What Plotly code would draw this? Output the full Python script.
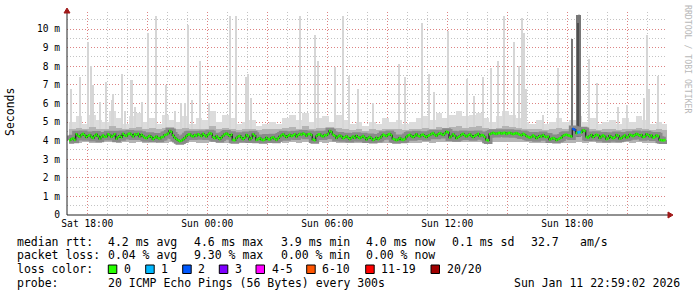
import plotly.graph_objects as go
import pandas as pd

# ---------------- data ----------------
range_start = "2026-01-10 16:59:02"
range_end = "2026-01-11 22:59:02"

median_start = "2026-01-10 17:05"   # 5-minute steps (300 s)
median_ms = [
    4.02, 4.08, 4.12, 4.04, 4.34, 4.26, 4.20, 4.31, 4.36, 4.28, 4.18, 4.26, 4.30, 4.20, 4.14, 4.26, 4.33, 4.23, 4.10, 4.20,
    4.28, 4.20, 4.22, 4.34, 4.30, 4.20, 4.26, 4.34, 4.10, 4.18, 4.26, 4.18, 4.36, 4.28, 4.25, 4.35, 4.38, 4.32, 4.22, 4.34,
    4.30, 4.36, 4.22, 4.32, 4.24, 4.16, 4.12, 4.20, 4.26, 4.18, 4.08, 4.16, 4.22, 4.14, 4.10, 4.18, 4.20, 4.30, 4.32, 4.38,
    4.52, 4.46, 4.28, 4.16, 4.08, 4.02, 3.97, 4.00, 4.06, 4.14, 4.24, 4.32, 4.34, 4.26, 4.22, 4.30, 4.26, 4.34, 4.30, 4.24,
    4.36, 4.28, 4.22, 4.32, 4.40, 4.36, 4.18, 4.12, 4.24, 4.16, 4.08, 4.16, 4.26, 4.34, 4.38, 4.32, 4.24, 4.32, 4.04, 4.02,
    4.14, 4.22, 4.26, 4.16, 4.08, 4.16, 4.30, 4.24, 4.06, 4.14, 4.34, 4.26, 4.04, 4.08, 4.14, 4.06, 4.02, 4.06, 4.16, 4.08,
    4.06, 4.14, 4.18, 4.10, 4.04, 4.12, 4.22, 4.28, 4.34, 4.26, 4.18, 4.26, 4.32, 4.24, 4.28, 4.34, 4.22, 4.30, 4.36, 4.32,
    4.38, 4.34, 4.26, 4.34, 4.36, 4.30, 4.06, 4.02, 4.24, 4.32, 4.34, 4.26, 4.22, 4.30, 4.28, 4.36, 4.52, 4.46, 4.32, 4.26,
    4.14, 4.22, 4.28, 4.22, 4.12, 4.18, 4.24, 4.16, 4.08, 4.16, 4.22, 4.14, 4.26, 4.18, 4.12, 4.18, 4.24, 4.16, 4.06, 4.14,
    4.20, 4.12, 4.03, 4.08, 4.16, 4.08, 4.14, 4.22, 4.32, 4.28, 4.24, 4.32, 4.36, 4.28, 4.10, 4.06, 4.02, 4.06, 4.14, 4.06,
    4.04, 4.08, 4.20, 4.28, 4.32, 4.24, 4.18, 4.26, 4.34, 4.26, 4.22, 4.30, 4.32, 4.24, 4.18, 4.26, 4.30, 4.36, 4.40, 4.32,
    4.26, 4.34, 4.40, 4.36, 4.30, 4.38, 4.48, 4.44, 4.16, 4.24, 4.34, 4.26, 4.12, 4.18, 4.24, 4.32, 4.36, 4.28, 4.22, 4.28,
    4.34, 4.26, 4.18, 4.26, 4.30, 4.36, 4.24, 4.30, 4.28, 4.20, 4.04, 4.01, 4.34, 4.38, 4.42, 4.38, 4.36, 4.40, 4.42, 4.38,
    4.40, 4.42, 4.36, 4.40, 4.42, 4.38, 4.34, 4.38, 4.40, 4.36, 4.32, 4.28, 4.36, 4.32, 4.24, 4.20, 4.16, 4.20, 4.28, 4.22,
    4.12, 4.18, 4.26, 4.22, 4.30, 4.22, 4.18, 4.22, 4.06, 4.10, 4.14, 4.10, 4.03, 4.07, 4.12, 4.16, 4.26, 4.30, 4.32, 4.28,
    4.26, 4.22, 4.62, 4.58, 4.40, 4.44, 4.46, 4.44, 4.56, 4.52, 4.20, 4.16, 4.24, 4.30, 4.18, 4.26, 4.32, 4.28, 4.14, 4.22,
    4.28, 4.22, 4.08, 4.12, 4.26, 4.18, 4.12, 4.18, 4.30, 4.26, 4.10, 4.14, 4.22, 4.28, 4.16, 4.20, 4.32, 4.28, 4.24, 4.30,
    4.36, 4.32, 4.26, 4.30, 4.18, 4.22, 4.34, 4.30, 4.22, 4.28, 4.16, 4.20, 4.28, 4.24, 4.04, 4.02, 4.01, 4.03,
]
loss_index = [302, 303, 305, 306]
loss_pings = [2, 2, 1, 1]

smoke_start = "2026-01-10 17:05"    # 20-minute steps
smoke_lo_ms = [
    3.90, 3.88, 3.91, 3.89, 3.87, 3.90, 3.92, 3.88, 3.90, 3.89,
    3.91, 3.88, 3.90, 3.87, 3.89, 3.90, 3.86, 3.88, 3.90, 3.89,
    3.88, 3.90, 3.87, 3.89, 3.86, 3.85, 3.87, 3.88, 3.86, 3.87,
    3.89, 3.90, 3.88, 3.91, 3.89, 3.90, 3.92, 3.90, 3.88, 3.90,
    3.89, 3.87, 3.88, 3.86, 3.87, 3.88, 3.86, 3.87, 3.89, 3.88,
    3.87, 3.86, 3.88, 3.90, 3.89, 3.91, 3.90, 3.92, 3.90, 3.91,
    3.90, 3.92, 3.93, 3.91, 3.90, 3.92, 3.93, 3.91, 3.90, 3.88,
    3.89, 3.87, 3.88, 3.90, 3.88, 3.89, 3.90, 3.88, 3.90, 3.87,
    3.88, 3.89, 3.87, 3.90, 3.88, 3.91, 3.89, 3.87, 3.88, 3.86,
]
smoke_mid_hi_ms = [
    4.60, 4.70, 4.60, 4.75, 4.65, 4.60, 4.80, 4.70, 4.60, 4.70,
    4.75, 4.60, 4.70, 4.60, 4.70, 4.65, 4.60, 4.70, 4.60, 4.65,
    4.60, 4.80, 4.60, 4.70, 4.65, 4.55, 4.60, 4.60, 4.55, 4.60,
    4.60, 4.60, 4.70, 4.75, 4.65, 4.80, 4.60, 4.70, 4.70, 4.60,
    4.70, 4.60, 4.55, 4.60, 4.50, 4.60, 4.55, 4.65, 4.60, 4.60,
    4.55, 4.60, 4.65, 4.70, 4.65, 4.75, 4.70, 4.75, 4.80, 4.70,
    4.75, 4.80, 4.70, 4.65, 4.70, 4.80, 4.75, 4.70, 4.60, 4.60,
    4.65, 4.55, 4.60, 4.70, 4.60, 4.65, 4.70, 4.60, 4.65, 4.55,
    4.60, 4.65, 4.55, 4.65, 4.60, 4.70, 4.65, 4.55, 4.60, 4.55,
]
smoke_light_hi_ms = [
    5.0, 5.3, 4.9, 5.4, 5.1, 5.0, 5.6, 5.2, 4.9, 5.3,
    5.5, 5.0, 5.2, 4.9, 5.4, 5.1, 5.0, 5.3, 4.9, 5.2,
    5.1, 5.6, 5.0, 5.4, 5.2, 4.9, 5.0, 5.1, 4.8, 4.9,
    5.0, 4.9, 5.2, 5.4, 5.1, 5.5, 5.0, 5.2, 5.3, 5.0,
    5.4, 5.1, 4.9, 5.0, 4.8, 5.0, 4.9, 5.2, 5.0, 5.1,
    4.9, 5.0, 5.2, 5.3, 5.1, 5.5, 5.2, 5.4, 5.6, 5.3,
    5.4, 5.5, 5.2, 5.0, 5.3, 5.6, 5.4, 5.2, 5.0, 4.9,
    5.1, 4.9, 5.0, 5.2, 5.0, 5.1, 5.3, 5.0, 5.2, 4.9,
    5.0, 5.1, 4.9, 5.2, 5.0, 5.3, 5.1, 4.9, 5.0, 4.9,
]

spike_times = [
    "2026-01-10 17:08", "2026-01-10 17:35", "2026-01-10 17:59", "2026-01-10 18:08",
    "2026-01-10 18:14", "2026-01-10 18:35", "2026-01-10 18:53", "2026-01-10 19:11",
    "2026-01-10 19:14", "2026-01-10 19:41", "2026-01-10 19:50", "2026-01-10 20:11",
    "2026-01-10 20:20", "2026-01-10 20:41", "2026-01-10 20:59", "2026-01-10 21:23",
    "2026-01-10 21:53", "2026-01-10 22:20", "2026-01-10 22:38", "2026-01-10 22:50",
    "2026-01-10 22:59", "2026-01-10 23:11", "2026-01-10 23:35", "2026-01-11 00:02",
    "2026-01-11 01:05", "2026-01-11 01:23", "2026-01-11 01:53", "2026-01-11 01:59",
    "2026-01-11 02:08", "2026-01-11 04:35", "2026-01-11 05:20", "2026-01-11 05:29",
    "2026-01-11 06:20", "2026-01-11 06:44", "2026-01-11 07:02", "2026-01-11 07:29",
    "2026-01-11 08:14", "2026-01-11 09:32", "2026-01-11 09:50", "2026-01-11 10:41",
    "2026-01-11 11:02", "2026-01-11 11:17", "2026-01-11 11:59", "2026-01-11 12:56",
    "2026-01-11 13:17", "2026-01-11 13:44", "2026-01-11 14:08", "2026-01-11 14:29",
    "2026-01-11 14:47", "2026-01-11 15:17", "2026-01-11 15:32", "2026-01-11 15:41",
    "2026-01-11 15:47", "2026-01-11 15:53", "2026-01-11 16:44", "2026-01-11 17:29",
    "2026-01-11 18:32", "2026-01-11 19:02", "2026-01-11 19:26", "2026-01-11 20:29",
    "2026-01-11 20:56", "2026-01-11 21:47", "2026-01-11 21:56", "2026-01-11 22:02",
    "2026-01-11 22:29",
]
spike_ms = [
    6.8, 7.4, 9.3, 8.0, 7.0, 6.1, 7.15, 6.2,
    6.5, 7.6, 5.6, 7.25, 5.8, 6.1, 9.8, 10.7,
    7.0, 5.6, 6.0, 6.0, 10.2, 6.2, 8.3, 6.0,
    10.7, 10.7, 7.4, 7.6, 6.3, 10.7, 9.7, 8.3,
    7.95, 10.7, 7.5, 6.8, 6.0, 8.1, 7.4, 10.3,
    7.6, 6.6, 9.9, 7.3, 6.4, 7.4, 7.9, 8.3,
    10.7, 9.3, 8.0, 10.6, 9.8, 6.8, 5.4, 7.9,
    10.8, 8.4, 7.1, 5.8, 5.9, 6.3, 9.7, 6.8,
    7.5,
]
# the burst of slow replies shortly after Sun 18:00 (outer / inner smoke)
heavy_times = ["2026-01-11 18:12", "2026-01-11 18:26"]
heavy_ms = [9.45, 10.75]
heavy_core_times = ["2026-01-11 18:29"]
heavy_core_ms = [10.3]

y_tick_vals = list(range(0, 11))
y_tick_text = ["0"] + [f"{v} m" for v in range(1, 11)]
x_tick_vals = ["2026-01-10 18:00", "2026-01-10 21:00", "2026-01-11 00:00", "2026-01-11 03:00",
               "2026-01-11 06:00", "2026-01-11 09:00", "2026-01-11 12:00", "2026-01-11 15:00",
               "2026-01-11 18:00", "2026-01-11 21:00"]
x_tick_text = ["Sat 18:00", "", "Sun 00:00", "", "Sun 06:00", "", "Sun 12:00", "", "Sun 18:00", ""]

loss_colors = {0: "#26ff00", 1: "#00b8ff", 2: "#0059ff", 3: "#7e00ff",
               5: "#ff00ff", 10: "#ff5500", 19: "#ff0000", 20: "#a00000"}
legend_items = [("0", "#26ff00"), ("1", "#00b8ff"), ("2", "#0059ff"), ("3", "#7e00ff"),
                ("4-5", "#ff00ff"), ("6-10", "#ff5500"), ("11-19", "#ff0000"), ("20/20", "#a00000")]

stats_rtt = ["median rtt:", "4.2 ms avg", "4.6 ms max", "3.9 ms min", "4.0 ms now", "0.1 ms sd", "32.7", "am/s"]
stats_loss = ["packet loss:", "0.04 % avg", "9.30 % max", "0.00 % min", "0.00 % now"]
probe_text = ["probe:", "20 ICMP Echo Pings (56 Bytes) every 300s", "Sun Jan 11 22:59:02 2026"]

# ---------------- layout helpers ----------------
W, H = 697, 297
PL, PR, PT, PB = 67, 667, 12, 215
MONO = "DejaVu Sans Mono"


def px(xp):
    return (xp - PL) / (PR - PL)


def py(yp):
    return (PB - yp) / (PB - PT)


med_t = pd.date_range(median_start, periods=len(median_ms), freq="5min")
smk_t = pd.date_range(smoke_start, periods=len(smoke_lo_ms), freq="20min")
STEP5 = pd.Timedelta(minutes=5)
STEP20 = 1200000

fig = go.Figure()

# light smoke band
fig.add_trace(go.Bar(x=smk_t, base=smoke_lo_ms,
                     y=[h - l for h, l in zip(smoke_light_hi_ms, smoke_lo_ms)],
                     width=STEP20, offset=0, marker=dict(color="#dcdcdc", line_width=0)))
# light spikes
fig.add_trace(go.Bar(x=pd.to_datetime(spike_times), base=[4.0] * len(spike_ms),
                     y=[s - 4.0 for s in spike_ms], width=360000, offset=0,
                     marker=dict(color="#d6d6d6", line_width=0)))
# mid smoke band
fig.add_trace(go.Bar(x=smk_t, base=smoke_lo_ms,
                     y=[h - l for h, l in zip(smoke_mid_hi_ms, smoke_lo_ms)],
                     width=STEP20, offset=0, marker=dict(color="#b4b4b4", line_width=0)))
# heavy event
fig.add_trace(go.Bar(x=pd.to_datetime(heavy_times), base=[4.2] * len(heavy_ms),
                     y=[s - 4.2 for s in heavy_ms], width=[300000, 960000], offset=0,
                     marker=dict(color="#777777", line_width=0)))
fig.add_trace(go.Bar(x=pd.to_datetime(heavy_core_times), base=[4.2] * len(heavy_core_ms),
                     y=[s - 4.2 for s in heavy_core_ms], width=420000, offset=0,
                     marker=dict(color="#4e4e4e", line_width=0)))
# dark core around the median
fig.add_trace(go.Scatter(x=med_t, y=median_ms, mode="lines", line_shape="hv",
                         line=dict(color="#8a8a8a", width=7)))
fig.add_trace(go.Scatter(x=med_t, y=median_ms, mode="lines", line_shape="hv",
                         line=dict(color="#2a2a2a", width=1.4)))

# median drawn as per-step horizontal segments coloured by packet loss
loss_of_step = {i: n for i, n in zip(loss_index, loss_pings)}
loss_key = lambda n: min(k for k in loss_colors if k >= n)
segments = {}
for i, (t, m) in enumerate(zip(med_t, median_ms)):
    key = loss_key(loss_of_step.get(i, 0))
    sx, sy = segments.setdefault(key, ([], []))
    sx.extend([t, t + STEP5, None])
    sy.extend([m, m, None])
for key, (sx, sy) in segments.items():
    fig.add_trace(go.Scatter(x=sx, y=sy, mode="lines", connectgaps=False,
                             line=dict(color=loss_colors[key], width=2.6)))

grid_dash = "1px,2px"
fig.update_layout(
    width=W, height=H,
    margin=dict(l=PL, r=W - PR, t=PT, b=H - PB),
    paper_bgcolor="white", plot_bgcolor="white",
    barmode="overlay", bargap=0, showlegend=False,
    font=dict(family=MONO, color="black"),
    xaxis=dict(type="date", range=[range_start, range_end],
               tickmode="array", tickvals=x_tick_vals, ticktext=x_tick_text,
               showgrid=True, gridcolor="rgba(230,110,110,0.75)", griddash=grid_dash, gridwidth=1,
               minor=dict(dtick=3600000, tick0="2026-01-10 17:00", showgrid=True,
                          gridcolor="#c4c4c4", griddash=grid_dash, gridwidth=1),
               showline=False, zeroline=False, ticks="",
               tickfont=dict(family=MONO, size=9.6, color="black"), ticklabelstandoff=1),
    yaxis=dict(range=[0, (PB - PT) / 18.6], tickmode="array",
               tickvals=y_tick_vals, ticktext=y_tick_text,
               showgrid=True, gridcolor="rgba(230,110,110,0.75)", griddash=grid_dash, gridwidth=1,
               minor=dict(dtick=0.5, tick0=0, showgrid=True,
                          gridcolor="#c4c4c4", griddash=grid_dash, gridwidth=1),
               showline=False, zeroline=False, ticks="",
               tickfont=dict(family=MONO, size=9.6, color="black"), ticklabelstandoff=6),
)

shapes = []
# axis lines
shapes.append(dict(type="line", xref="paper", yref="paper", x0=0, x1=px(669), y0=0, y1=0,
                   line=dict(color="#222", width=1)))
shapes.append(dict(type="line", xref="paper", yref="paper", x0=0, x1=0, y0=0, y1=py(10),
                   line=dict(color="#222", width=1)))
# arrows
shapes.append(dict(type="path", xref="paper", yref="paper",
                   path=f"M {px(668)},{py(212)} L {px(673)},{py(215)} L {px(668)},{py(218)} Z",
                   fillcolor="#a01818", line=dict(color="#a01818", width=1)))
shapes.append(dict(type="path", xref="paper", yref="paper",
                   path=f"M {px(64)},{py(13)} L {px(67)},{py(8)} L {px(70)},{py(13)} Z",
                   fillcolor="#a01818", line=dict(color="#a01818", width=1)))

annotations = []


def text(xp, yp, s, size=11.5, color="black"):
    annotations.append(dict(x=px(xp), y=py(yp), xref="paper", yref="paper", text=s,
                            showarrow=False, xanchor="left", yanchor="middle",
                            font=dict(family=MONO, size=size, color=color), borderpad=0))


rtt_x = [16, 106.5, 192.5, 279.5, 364.5, 451, 529.5, 578.5]
for xx, s in zip(rtt_x, stats_rtt):
    text(xx, 241.7, s)
loss_x = [16, 106.5, 192.5, 279.5, 364.5]
for xx, s in zip(loss_x, stats_loss):
    text(xx, 255.3, s)
text(16, 269.3, "loss color:")
box_x = [108.3, 145.7, 182.7, 219.3, 256, 306.7, 365.7, 431]
lbl_x = [122.5, 160, 197, 233.5, 270.5, 321, 380, 445.5]
for bx, lx, (lab, col) in zip(box_x, lbl_x, legend_items):
    shapes.append(dict(type="rect", xref="paper", yref="paper",
                       x0=px(bx), x1=px(bx + 8.5), y0=py(273.5), y1=py(265),
                       fillcolor=col, line=dict(color="black", width=1)))
    text(lx, 269.3, lab)
text(16, 283.3, probe_text[0])
text(106.5, 283.3, probe_text[1])
text(512.5, 283.3, probe_text[2])

# y axis title
annotations.append(dict(x=px(10), y=py(112), xref="paper", yref="paper", text="Seconds",
                        textangle=-90, showarrow=False, xanchor="center", yanchor="middle",
                        font=dict(family=MONO, size=11.5, color="black")))
# watermark
annotations.append(dict(x=px(688), y=py(59), xref="paper", yref="paper",
                        text="RRDTOOL / TOBI OETIKER", textangle=90, showarrow=False,
                        xanchor="center", yanchor="middle",
                        font=dict(family=MONO, size=8.2, color="#b8b8b8")))

fig.update_layout(shapes=shapes, annotations=annotations)
fig.write_html("out.html")
